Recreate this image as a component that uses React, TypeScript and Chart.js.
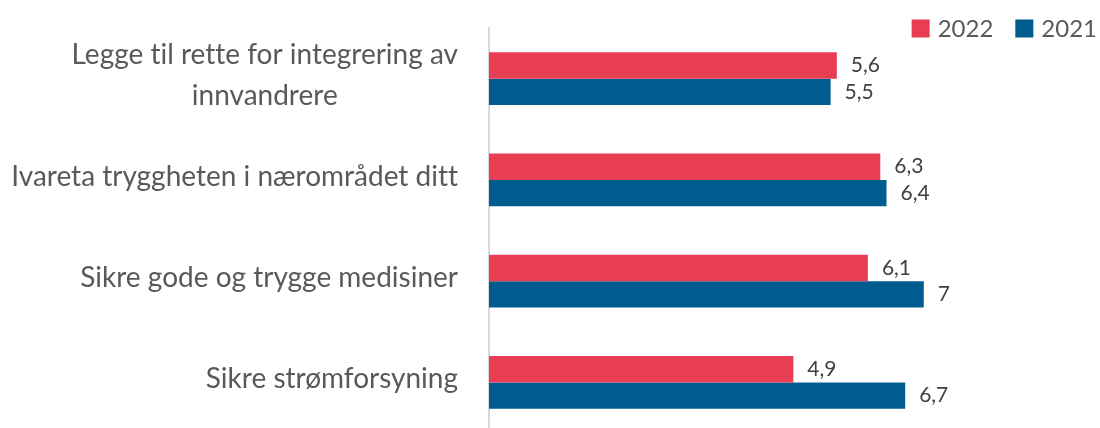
import React, { useEffect, useRef } from "react";
import { Chart, registerables } from "chart.js";

Chart.register(...registerables);

const categories: string[][] = [
  ["Legge til rette for integrering av", "innvandrere"],
  ["Ivareta tryggheten i nærområdet ditt"],
  ["Sikre gode og trygge medisiner"],
  ["Sikre strømforsyning"],
];
const seriesNames = ["2022", "2021"];
const values2022 = [5.6, 6.3, 6.1, 4.9];
const values2021 = [5.5, 6.4, 7, 6.7];
const seriesColors = ["#E83E54", "#005B8F"];

const FONT = "Lato, 'Noto Sans', sans-serif";

const yLabelPlugin = {
  id: "yLabelPlugin",
  afterDraw(chart: any) {
    const ctx = chart.ctx;
    const yScale = chart.scales.y;
    const right = chart.chartArea.left - 31;
    const lineH = 41;
    ctx.save();
    try {
      (ctx as any).textRendering = "optimizeSpeed";
    } catch (e) {}
    ctx.font = `28px ${FONT}`;
    ctx.fillStyle = "#595959";
    ctx.textBaseline = "middle";
    ctx.textAlign = "center";
    (chart.data.labels as any[]).forEach((lab, i) => {
      const lines: string[] = Array.isArray(lab) ? lab : [lab];
      const y = yScale.getPixelForValue(i);
      const w = Math.max(...lines.map((l) => ctx.measureText(l).width));
      const cx = right - w / 2;
      lines.forEach((l, j) => {
        ctx.fillText(l, cx, y - 3 + (j - (lines.length - 1) / 2) * lineH);
      });
    });
    ctx.restore();
  },
};

const valueLabelPlugin = {
  id: "valueLabelPlugin",
  afterDatasetsDraw(chart: any) {
    const ctx = chart.ctx;
    ctx.save();
    ctx.font = `21px ${FONT}`;
    ctx.fillStyle = "#404040";
    ctx.textBaseline = "middle";
    ctx.textAlign = "left";
    chart.data.datasets.forEach((ds: any, di: number) => {
      const meta = chart.getDatasetMeta(di);
      meta.data.forEach((el: any, i: number) => {
        const txt = String(ds.data[i]).replace(".", ",");
        ctx.fillText(txt, el.x + 14, el.y);
      });
    });
    ctx.restore();
  },
};

const legendPlugin = {
  id: "customLegend",
  afterDraw(chart: any) {
    const ctx = chart.ctx;
    ctx.save();
    ctx.font = `24px ${FONT}`;
    ctx.textBaseline = "middle";
    ctx.textAlign = "left";
    const box = 18;
    const gap = 8;
    const itemGap = 22;
    const items = chart.data.datasets.map((ds: any) => ({
      label: ds.label,
      color: ds.backgroundColor,
      w: ctx.measureText(ds.label).width,
    }));
    let x = chart.width - 3;
    const cy = 28.5;
    const positions: number[] = [];
    for (let i = items.length - 1; i >= 0; i--) {
      const itemW = box + gap + items[i].w;
      x -= itemW;
      positions[i] = x;
      x -= itemGap;
    }
    items.forEach((it: any, i: number) => {
      const px = positions[i];
      ctx.fillStyle = it.color;
      ctx.fillRect(px, cy - box / 2, box, box);
      ctx.fillStyle = "#595959";
      ctx.fillText(it.label, px + box + gap, cy + 1);
    });
    ctx.restore();
  },
};

export default function App() {
  const ref = useRef<HTMLCanvasElement | null>(null);

  useEffect(() => {
    document.body.style.margin = "0";
    document.body.style.overflow = "hidden";
    document.documentElement.style.overflow = "hidden";
    if (!ref.current) return;
    const chart = new Chart(ref.current, {
      type: "bar",
      data: {
        labels: categories as any,
        datasets: [
          {
            label: seriesNames[0],
            data: values2022,
            backgroundColor: seriesColors[0],
            categoryPercentage: 0.52,
            barPercentage: 1,
          },
          {
            label: seriesNames[1],
            data: values2021,
            backgroundColor: seriesColors[1],
            categoryPercentage: 0.52,
            barPercentage: 1,
          },
        ],
      },
      options: {
        indexAxis: "y",
        animation: false,
        responsive: false,
        maintainAspectRatio: false,
        layout: { padding: { left: 489, right: 52, top: 28, bottom: 1 } },
        plugins: {
          legend: { display: false },
          tooltip: { enabled: false },
        },
        scales: {
          x: {
            min: 0,
            max: 9,
            display: false,
            grid: { display: false },
          },
          y: {
            grid: { display: false, drawTicks: false },
            ticks: { display: false },
            border: { display: true, color: "#D9D9D9", width: 2 },
          },
        },
      },
      plugins: [yLabelPlugin, valueLabelPlugin, legendPlugin],
    });
    return () => chart.destroy();
  }, []);

  return (
    <div style={{ width: 1100, height: 428, overflow: "hidden" }}>
      <canvas ref={ref} width={1100} height={434} style={{ display: "block" }} />
    </div>
  );
}
